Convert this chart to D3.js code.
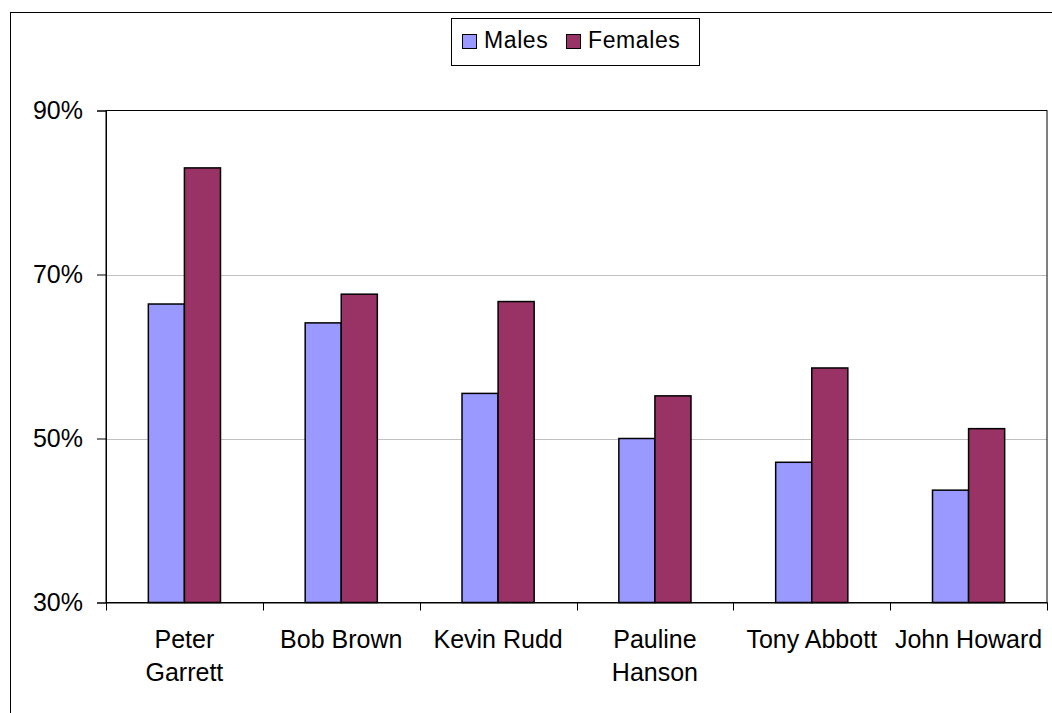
<!DOCTYPE html>
<html>
<head>
<meta charset="utf-8">
<script src="https://cdn.jsdelivr.net/npm/d3@7/dist/d3.min.js"></script>
<style>
  html, body { margin: 0; padding: 0; background: #fff; }
  svg { display: block; font-family: "Liberation Sans", Arial, sans-serif; }
</style>
</head>
<body>
<svg id="chart" width="1052" height="713"></svg>
<script>
// Approval by gender for each politician
const categories = ["Peter Garrett", "Bob Brown", "Kevin Rudd", "Pauline Hanson", "Tony Abbott", "John Howard"];
const categoryLines = [["Peter", "Garrett"], ["Bob Brown"], ["Kevin Rudd"], ["Pauline", "Hanson"], ["Tony Abbott"], ["John Howard"]];
const seriesNames = ["Males", "Females"];
const males = [66.4, 64.1, 55.5, 50.0, 47.1, 43.7];
const females = [83.0, 67.6, 66.7, 55.2, 58.6, 51.2];
const yTicks = [30, 50, 70, 90];
const colors = ["#9999ff", "#993366"];

const svg = d3.select("#chart");
const plot = { left: 106, top: 110.5, right: 1047, bottom: 602.5 };

// Outer chart frame
svg.append("rect")
  .attr("x", 10.5).attr("y", 12.5)
  .attr("width", 1100).attr("height", 800)
  .attr("fill", "#fff").attr("stroke", "#000").attr("stroke-width", 1);

const y = d3.scaleLinear().domain([30, 90]).range([plot.bottom, plot.top]);
const x0 = d3.scaleBand().domain(categories).range([plot.left, plot.right]).paddingInner(0).paddingOuter(0);
const barW = x0.bandwidth() * 0.23;
const x1 = d3.scaleBand().domain(seriesNames).range([0, barW * 2]);

// Horizontal gridlines
svg.append("g").selectAll("line")
  .data(yTicks.filter(t => t !== 30 && t !== 90))
  .join("line")
  .attr("x1", plot.left).attr("x2", plot.right)
  .attr("y1", d => Math.round(y(d)) + 0.5).attr("y2", d => Math.round(y(d)) + 0.5)
  .attr("stroke", "#c0c0c0").attr("stroke-width", 1);

// Plot area border
svg.append("rect")
  .attr("x", plot.left).attr("y", plot.top)
  .attr("width", plot.right - plot.left).attr("height", plot.bottom - plot.top)
  .attr("fill", "none").attr("stroke", "#000").attr("stroke-width", 1);

// Bars
const rows = categories.map((c, i) => ({ cat: c, vals: [males[i], females[i]] }));
const groups = svg.append("g").selectAll("g")
  .data(rows).join("g")
  .attr("transform", d => `translate(${x0(d.cat) + x0.bandwidth() / 2 - barW},0)`);
groups.selectAll("rect")
  .data(d => d.vals.map((v, j) => ({ name: seriesNames[j], v, j })))
  .join("rect")
  .attr("x", d => x1(d.name))
  .attr("y", d => y(d.v))
  .attr("width", x1.bandwidth())
  .attr("height", d => y(30) - y(d.v))
  .attr("fill", d => colors[d.j])
  .attr("stroke", "#000").attr("stroke-width", 1.5);

// Y axis
const yAxis = d3.axisLeft(y).tickValues(yTicks).tickFormat(d => d + "%").tickSize(9).tickPadding(14);
const gy = svg.append("g").attr("transform", `translate(${plot.left},0)`).call(yAxis);
gy.select(".domain").attr("stroke", "#000");
gy.selectAll(".tick line").attr("stroke", "#000");
gy.selectAll(".tick text").attr("font-size", 25).attr("fill", "#000")
  .attr("font-family", "Liberation Sans, Arial, sans-serif");

// X axis with boundary ticks between categories
const xAxis = d3.axisBottom(x0).tickSize(0).tickFormat("");
const gx = svg.append("g").attr("transform", `translate(0,${plot.bottom})`).call(xAxis);
gx.select(".domain").attr("stroke", "#000");
const bounds = d3.range(categories.length + 1).map(i => plot.left + i * x0.step());
gx.selectAll("line.bound").data(bounds).join("line").attr("class", "bound")
  .attr("x1", d => Math.round(d) + 0.5).attr("x2", d => Math.round(d) + 0.5)
  .attr("y1", 0).attr("y2", 8).attr("stroke", "#000");

// Category labels
const labels = svg.append("g");
categories.forEach((c, i) => {
  const cx = x0(c) + x0.bandwidth() / 2;
  const t = labels.append("text")
    .attr("x", cx)
    .attr("y", 648)
    .attr("text-anchor", "middle")
    .attr("font-size", 25).attr("fill", "#000");
  categoryLines[i].forEach((ln, k) => {
    t.append("tspan").attr("x", cx).attr("dy", k === 0 ? 0 : 33).text(ln);
  });
});

// Legend
const legend = svg.append("g");
legend.append("rect")
  .attr("x", 451.5).attr("y", 18.5).attr("width", 248).attr("height", 47)
  .attr("fill", "#fff").attr("stroke", "#000").attr("stroke-width", 1);
const legendX = [462, 566];
seriesNames.forEach((s, j) => {
  legend.append("rect")
    .attr("x", legendX[j] + 0.5).attr("y", 34.5).attr("width", 14).attr("height", 14)
    .attr("fill", colors[j]).attr("stroke", "#000").attr("stroke-width", 1);
  legend.append("text")
    .attr("x", legendX[j] + 22).attr("y", 48)
    .attr("font-size", 23).attr("letter-spacing", 0.6).attr("fill", "#000").text(s);
});
</script>
</body>
</html>
